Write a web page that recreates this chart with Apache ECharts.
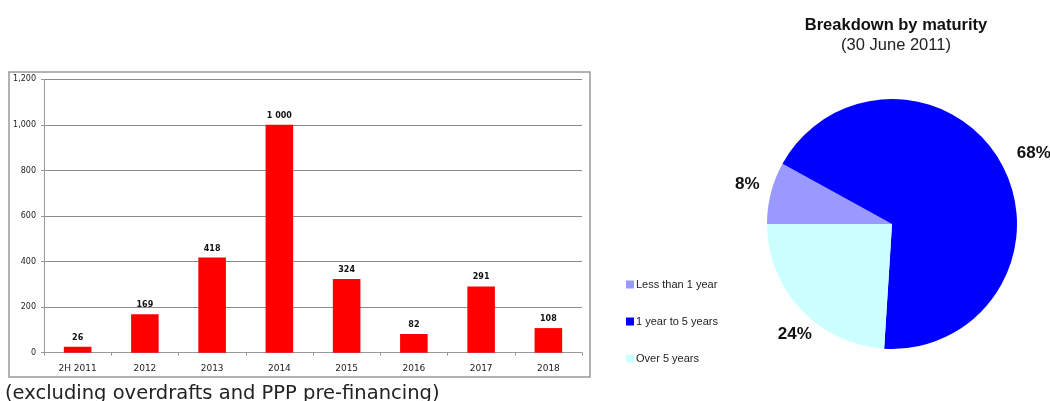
<!DOCTYPE html>
<html>
<head>
<meta charset="utf-8">
<script src="https://cdn.jsdelivr.net/npm/echarts@6/dist/echarts.min.js"></script>
<style>
html,body{margin:0;padding:0;background:#fff;}
#c{width:1050px;height:401px;}
</style>
</head>
<body>
<div id="c"></div>
<script>
var categories = ['2H 2011', '2012', '2013', '2014', '2015', '2016', '2017', '2018'];
var amounts = [26, 169, 418, 1000, 324, 82, 291, 108];
var maturityNames = ['Less than 1 year', '1 year to 5 years', 'Over 5 years'];
var maturityShares = [8, 68, 24];
var maturityColors = ['#9999FF', '#0000FF', '#CCFFFF'];

// label nudges (style only) to mimic the original best-fit label placement
var pieLabelNudge = [[15, -3], [-9, 0], [32, 10]];

var chart = echarts.init(document.getElementById('c'));
chart.setOption({
  animation: false,
  backgroundColor: '#ffffff',
  title: {
    text: 'Breakdown by maturity',
    subtext: '(30 June 2011)',
    left: 891,
    top: 12,
    textAlign: 'center',
    itemGap: 3,
    textStyle: {fontFamily: 'Liberation Sans', fontSize: 16.5, fontWeight: 'bold', color: '#111'},
    subtextStyle: {fontFamily: 'Liberation Sans', fontSize: 16.5, color: '#222'}
  },
  legend: {
    orient: 'vertical',
    left: 621,
    top: 274,
    itemWidth: 8,
    itemHeight: 8,
    itemGap: 26,
    icon: 'rect',
    data: maturityNames,
    textStyle: {fontFamily: 'Liberation Sans', fontSize: 11, color: '#222', padding: [0, 0, 0, -3]}
  },
  graphic: [
    {type: 'rect', shape: {x: 9, y: 72, width: 581, height: 305},
     style: {fill: 'none', stroke: '#999', lineWidth: 1.5}, z: -1},
    {type: 'text', left: 5, top: 384,
     style: {text: '(excluding overdrafts and PPP pre-financing)', font: '19.5px "DejaVu Sans"', fill: '#222'}}
  ],
  grid: {left: 44, right: 468, top: 79.3, bottom: 48.3},
  xAxis: {
    type: 'category',
    data: categories,
    axisLine: {lineStyle: {color: '#999'}},
    axisTick: {show: true, length: 3, lineStyle: {color: '#999'}},
    axisLabel: {fontFamily: 'DejaVu Sans', fontSize: 9, color: '#222', margin: 11}
  },
  yAxis: {
    type: 'value',
    min: 0, max: 1200, interval: 200,
    axisLine: {show: true, lineStyle: {color: '#999'}},
    axisTick: {show: true, length: 3, lineStyle: {color: '#999'}},
    splitLine: {lineStyle: {color: '#8a8a8a', width: 1}},
    axisLabel: {fontFamily: 'DejaVu Sans', fontSize: 8, color: '#222', margin: 8,
      formatter: function (v) { return v.toLocaleString('en-US'); }}
  },
  series: [
    {
      type: 'bar',
      data: amounts,
      barWidth: '41%',
      itemStyle: {color: '#FF0000'},
      label: {
        show: true, position: 'top', distance: 5,
        fontFamily: 'DejaVu Sans', fontSize: 8, fontWeight: 'bold', color: '#111',
        formatter: function (p) { return String(p.value).replace(/\B(?=(\d{3})+(?!\d))/g, ' '); }
      }
    },
    {
      type: 'pie',
      center: [892, 224],
      radius: 125,
      startAngle: 180,
      clockwise: true,
      data: maturityNames.map(function (n, i) {
        return {name: n, value: maturityShares[i], itemStyle: {color: maturityColors[i]}};
      }),
      label: {
        show: true, position: 'outside', overflow: 'none',
        formatter: '{c}%',
        fontFamily: 'Liberation Sans', fontSize: 17, fontWeight: 'bold', color: '#111'
      },
      labelLine: {show: false, length: 22, length2: 0},
      labelLayout: function (p) {
        var n = pieLabelNudge[p.dataIndex] || [0, 0];
        return {dx: n[0], dy: n[1]};
      },
      emphasis: {disabled: true}
    }
  ]
});
</script>
</body>
</html>
